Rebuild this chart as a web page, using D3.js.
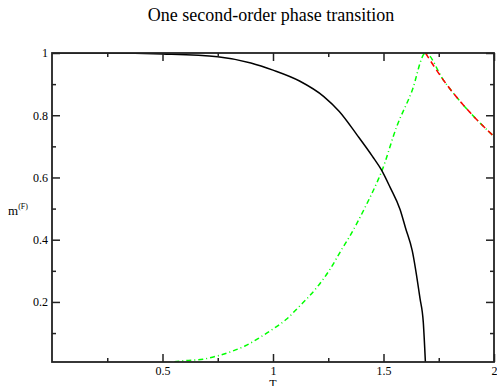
<!DOCTYPE html>
<html>
<head>
<meta charset="utf-8">
<script src="https://cdn.jsdelivr.net/npm/d3@7"></script>
<style>
  body { margin: 0; background: #fff; }
</style>
</head>
<body>
<div id="chart"></div>
<script>
// order parameter m(F) vs T
const tOrder = [0, 0.25, 0.5, 0.75, 0.9, 1.0, 1.12, 1.23, 1.3, 1.38, 1.45, 1.49, 1.53, 1.575, 1.6, 1.63, 1.665, 1.68, 1.69]
const mOrder = [1, 1, 0.997, 0.988, 0.968, 0.945, 0.91, 0.86, 0.812, 0.737, 0.668, 0.625, 0.568, 0.497, 0.437, 0.365, 0.212, 0.135, 0]

// green dash-dot curve
const tGreen = [0.5, 0.593, 0.683, 0.751, 0.813, 0.881, 0.941, 1.0, 1.062, 1.114, 1.2, 1.258, 1.311, 1.348, 1.416, 1.476, 1.492, 1.56, 1.628, 1.69, 1.771, 1.861, 1.937, 2.0]
const mGreen = [0.002, 0.011, 0.016, 0.027, 0.041, 0.061, 0.086, 0.113, 0.145, 0.182, 0.248, 0.305, 0.369, 0.412, 0.503, 0.593, 0.62, 0.764, 0.876, 1.0, 0.913, 0.833, 0.775, 0.732]

// red dashed curve above Tc
const tRed = [1.69, 1.771, 1.861, 1.937, 2.0]
const mRed = [1.0, 0.913, 0.833, 0.775, 0.732]

const xMajor = [0.5, 1, 1.5, 2]
const xMinor = [0.25, 0.75, 1.25, 1.75]
const yMajor = [0.2, 0.4, 0.6, 0.8, 1]
const yMinor = [0.1, 0.3, 0.5, 0.7, 0.9]

const width = 497
const height = 386
const padL = 52, padR = 494, padT = 53, padB = 362
const serif = '"Liberation Serif", "Times New Roman", Times, "DejaVu Serif", serif'

const svg = d3.select('#chart').append('svg')
  .attr('width', width)
  .attr('height', height)

const x = d3.scaleLinear().domain([0, 2]).range([padL, padR])
const y = d3.scaleLinear().domain([0.007, 1]).range([padB, padT])

svg.append('defs').append('clipPath').attr('id', 'clip')
  .append('rect')
  .attr('x', padL).attr('y', padT)
  .attr('width', padR - padL).attr('height', padB - padT)

const zip = (ts, ms) => ts.map((t, i) => [t, ms[i]])
const line = d3.line().x(d => x(d[0])).y(d => y(d[1])).curve(d3.curveMonotoneX)

const plot = svg.append('g').attr('clip-path', 'url(#clip)')

plot.append('path')
  .attr('d', line(zip(tGreen, mGreen)))
  .attr('fill', 'none')
  .attr('stroke', '#00ff00')
  .attr('stroke-width', 1.5)
  .attr('stroke-dasharray', '5,3,1,3')

plot.append('path')
  .attr('d', line(zip(tRed, mRed)))
  .attr('fill', 'none')
  .attr('stroke', '#ff0000')
  .attr('stroke-width', 1.5)
  .attr('stroke-dasharray', '6,4')

plot.append('path')
  .attr('d', line(zip(tOrder, mOrder)))
  .attr('fill', 'none')
  .attr('stroke', '#000')
  .attr('stroke-width', 1.5)

// axes, ticks inside on all four sides
const axisColor = '#222'
const tickIn = (axis, size) => axis.tickSizeInner(-size).tickSizeOuter(0).tickPadding(4)

const bottomAxis = svg.append('g')
  .attr('transform', `translate(0,${padB})`)
  .call(tickIn(d3.axisBottom(x).tickValues(xMajor).tickFormat(d3.format('')), 8))
svg.append('g')
  .attr('transform', `translate(0,${padB})`)
  .call(tickIn(d3.axisBottom(x).tickValues(xMinor).tickFormat(''), 4))
svg.append('g')
  .attr('transform', `translate(0,${padT})`)
  .call(tickIn(d3.axisTop(x).tickValues(xMajor).tickFormat(''), 8))
svg.append('g')
  .attr('transform', `translate(0,${padT})`)
  .call(tickIn(d3.axisTop(x).tickValues(xMinor).tickFormat(''), 4))

svg.append('g')
  .attr('transform', `translate(${padL},0)`)
  .call(tickIn(d3.axisLeft(y).tickValues(yMajor).tickFormat(d3.format('')), 8))
svg.append('g')
  .attr('transform', `translate(${padL},0)`)
  .call(tickIn(d3.axisLeft(y).tickValues(yMinor).tickFormat(''), 4))
svg.append('g')
  .attr('transform', `translate(${padR},0)`)
  .call(tickIn(d3.axisRight(y).tickValues(yMajor).tickFormat(''), 8))
svg.append('g')
  .attr('transform', `translate(${padR},0)`)
  .call(tickIn(d3.axisRight(y).tickValues(yMinor).tickFormat(''), 4))

svg.selectAll('.domain').remove()
svg.selectAll('g').attr('font-family', serif)
svg.selectAll('.tick line').attr('stroke', axisColor).attr('stroke-width', 1.5)
svg.selectAll('.tick text')
  .attr('font-family', serif)
  .attr('font-size', 12)
  .attr('fill', '#000')
bottomAxis.selectAll('.tick text').attr('dy', null).attr('y', 13)

svg.append('rect')
  .attr('x', padL).attr('y', padT)
  .attr('width', padR - padL).attr('height', padB - padT)
  .attr('fill', 'none')
  .attr('stroke', axisColor)
  .attr('stroke-width', 1.8)

// titles
svg.append('text')
  .attr('x', (padL + padR) / 2 - 2)
  .attr('y', 21)
  .attr('text-anchor', 'middle')
  .attr('font-family', serif)
  .attr('font-size', 18)
  .text('One second-order phase transition')

svg.append('text')
  .attr('x', (padL + padR) / 2)
  .attr('y', 388)
  .attr('text-anchor', 'middle')
  .attr('font-family', serif)
  .attr('font-size', 12)
  .text('T')

const yLabel = svg.append('text')
  .attr('x', 8)
  .attr('y', 215)
  .attr('font-family', serif)
  .attr('font-size', 13)
yLabel.append('tspan').text('m')
yLabel.append('tspan')
  .attr('dy', -6)
  .attr('font-size', 8)
  .text('(F)')
</script>
</body>
</html>
